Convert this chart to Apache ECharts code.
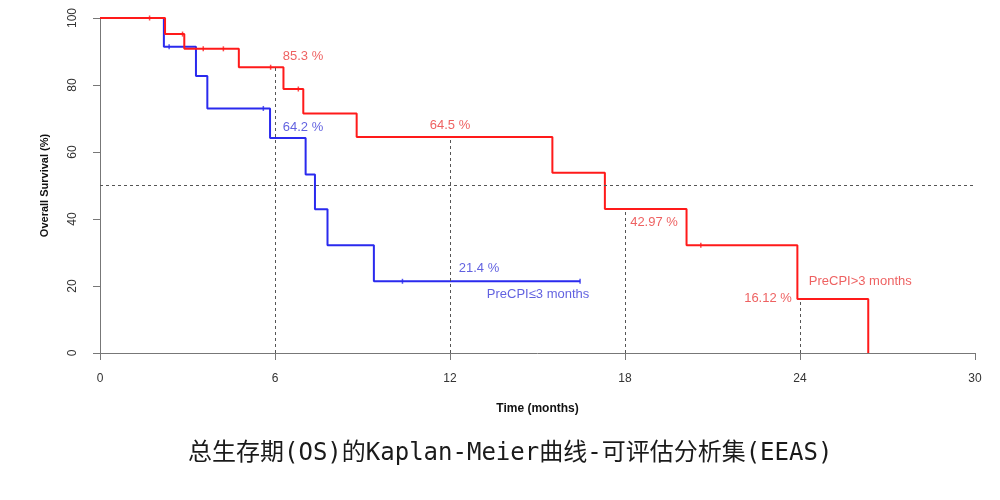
<!DOCTYPE html>
<html><head><meta charset="utf-8">
<script src="https://cdn.jsdelivr.net/npm/echarts@6/dist/echarts.min.js"></script>
<style>html,body{margin:0;padding:0;background:#fff}#c{width:1000px;height:500px}</style>
</head><body><div id="c"></div>
<script>
// Kaplan-Meier step data (time in months, survival % after the event)
const redTimes  = [0, 2.23, 2.89, 4.76, 6.29, 6.97, 8.8, 15.51, 17.31, 20.11, 23.91, 26.34];
const redSurv   = [100, 95.2, 90.8, 85.3, 78.8, 71.5, 64.5, 53.8, 42.97, 32.2, 16.12, 0];
const redCensor = [1.7, 2.83, 3.54, 4.23, 5.85, 6.8, 20.6];
const blueTimes  = [0, 2.19, 3.29, 3.68, 5.83, 7.05, 7.37, 7.8, 9.39, 16.46];
const blueSurv   = [100, 91.4, 82.7, 73.0, 64.2, 53.3, 42.9, 32.2, 21.4, 21.4];
const blueCensor = [2.37, 5.6, 10.37, 16.46];
const landmarkTimes = [6, 12, 18, 24];
const landmarkVals  = [85.3, 64.5, 42.97, 16.12];
const medianLevel = 50;
const redLabels  = ['85.3 %', '64.5 %', '42.97 %', '16.12 %', 'PreCPI>3 months'];
const blueLabels = ['64.2 %', '21.4 %', 'PreCPI\u22643 months'];
const xTickLabels = ['0', '6', '12', '18', '24', '30'];
const yTickLabels = ['0', '20', '40', '60', '80', '100'];
const titleText = '总生存期(OS)的Kaplan-Meier曲线-可评估分析集(EEAS)';

const RED = '#ff1a1a', BLUE = '#2a2aee';
const RED_T = '#ea3a3a', BLUE_T = '#3a3ad8';

function survAt(times, surv, t) {
  let v = surv[0];
  for (let i = 0; i < times.length; i++) if (times[i] <= t) v = surv[i];
  return v;
}
const redLine = redTimes.map((t, i) => [t, redSurv[i]]);
const blueLine = blueTimes.map((t, i) => [t, blueSurv[i]]);
const redCens = redCensor.map(t => [t, survAt(redTimes, redSurv, t)]);
const blueCens = blueCensor.map(t => [t, survAt(blueTimes, blueSurv, t)]);

// label anchors (data points they describe) + pixel offsets (style)
const nR = redTimes.length;
const redAnchors = [[6, landmarkVals[0]], [12, landmarkVals[1]], [18, landmarkVals[2]], [24, landmarkVals[3]], [redTimes[nR - 1], redSurv[nR - 2]]];
const redOffsets = [[28, -11], [0, -12], [29, 13], [-32, -1], [-8, -18]];
const blueAnchors = [[6, survAt(blueTimes, blueSurv, 6)], [12, survAt(blueTimes, blueSurv, 12)], blueLine[blueLine.length - 1]];
const blueOffsets = [[28, -11], [29, -13], [-42, 13]];

function labelData(anchors, texts, offsets, color) {
  return anchors.map((a, i) => ({
    value: a,
    label: { show: true, position: 'inside', formatter: texts[i], offset: offsets[i],
      color: color, fontSize: 13, fontFamily: 'Liberation Sans, Arial, sans-serif' }
  }));
}

const markSegs = landmarkTimes.map((t, i) => [{ coord: [t, 0] }, { coord: [t, landmarkVals[i]] }]);
markSegs.push([{ coord: [0, medianLevel] }, { coord: [30, medianLevel] }]);

const chart = echarts.init(document.getElementById('c'), null, { renderer: 'canvas' });
chart.setOption({
  backgroundColor: '#fff',
  animation: false,
  title: {
    text: titleText, left: 183, top: 437,
    textStyle: { fontFamily: "'DejaVu Sans Mono', 'Noto Sans CJK SC', monospace", fontSize: 24, fontWeight: 'normal', color: '#1a1a1a' }
  },
  grid: { left: 100, right: 25, top: 18, bottom: 147 },
  xAxis: {
    type: 'value', min: 0, max: 30, interval: 6,
    name: 'Time (months)', nameLocation: 'middle', nameGap: 50,
    nameTextStyle: { fontFamily: 'Liberation Sans, Arial', fontSize: 12, fontWeight: 'bold', color: '#111' },
    axisLine: { show: true, lineStyle: { color: '#777', width: 1 } },
    axisTick: { show: true, length: 7, lineStyle: { color: '#777' } },
    axisLabel: { margin: 20, fontSize: 12, color: '#333', fontFamily: 'Liberation Sans, Arial',
      formatter: (v) => xTickLabels[Math.round(v / 6)] },
    splitLine: { show: false }
  },
  yAxis: {
    type: 'value', min: 0, max: 100, interval: 20,
    name: 'Overall Survival (%)', nameLocation: 'middle', nameGap: 50, nameRotate: 90,
    nameTextStyle: { fontFamily: 'Liberation Sans, Arial', fontSize: 11, fontWeight: 'bold', color: '#111' },
    axisLine: { show: true, lineStyle: { color: '#777', width: 1 } },
    axisTick: { show: true, length: 7, lineStyle: { color: '#777' } },
    axisLabel: { margin: 21, rotate: 90, fontSize: 12, color: '#333', fontFamily: 'Liberation Sans, Arial',
      formatter: (v) => yTickLabels[Math.round(v / 20)] },
    splitLine: { show: false }
  },
  series: [
    {
      type: 'line', step: 'end', data: blueLine, symbol: 'none', z: 3,
      lineStyle: { color: BLUE, width: 2 }
    },
    {
      type: 'line', step: 'end', data: redLine, symbol: 'none', z: 4,
      lineStyle: { color: RED, width: 2 },
      markLine: {
        silent: true, symbol: ['none', 'none'], label: { show: false },
        lineStyle: { color: '#555', type: [3, 3], width: 1 },
        data: markSegs
      }
    },
    { type: 'scatter', data: blueCens, symbol: 'rect', symbolSize: [1.5, 5], itemStyle: { color: BLUE }, z: 5 },
    { type: 'scatter', data: redCens, symbol: 'rect', symbolSize: [1.5, 5], itemStyle: { color: RED }, z: 6 },
    { type: 'scatter', data: labelData(redAnchors, redLabels, redOffsets, RED_T), symbolSize: 0, z: 7 },
    { type: 'scatter', data: labelData(blueAnchors, blueLabels, blueOffsets, BLUE_T), symbolSize: 0, z: 7 }
  ]
});
</script></body></html>
